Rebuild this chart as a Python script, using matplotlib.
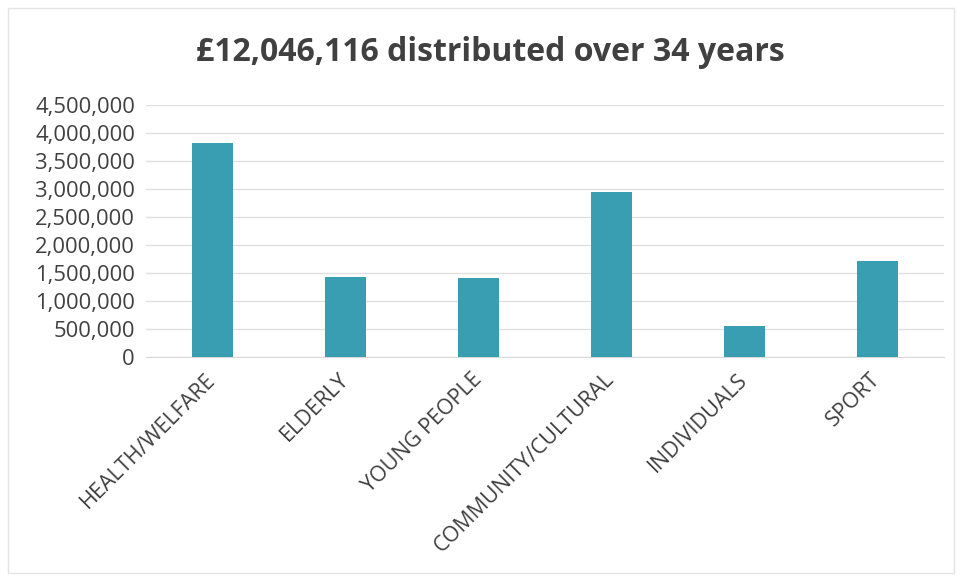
import matplotlib
matplotlib.use("Agg")
import matplotlib.pyplot as plt
from matplotlib.ticker import FuncFormatter, MultipleLocator
from matplotlib.patches import Rectangle

categories = ["HEALTH/WELFARE", "ELDERLY", "YOUNG PEOPLE", "COMMUNITY/CULTURAL", "INDIVIDUALS", "SPORT"]
amounts = [3815000, 1430000, 1410000, 2950000, 550000, 1710000]
title = "£12,046,116 distributed over 34 years"

bar_color = "#3A9EB2"
text_color = "#404040"

plt.rcParams['font.family'] = ['Open Sans', 'DejaVu Sans']

fig = plt.figure(figsize=(9.61, 5.8), dpi=100)
fig.patch.set_facecolor("white")
fig.patches.append(Rectangle((0.008, 0.012), 0.985, 0.975, transform=fig.transFigure,
                             fill=False, edgecolor="#e4e4e4", linewidth=1.0))

ax = fig.add_axes([0.152, 0.3845, 0.830, 0.4345])
x = range(len(categories))
ax.bar(x, amounts, width=0.31, color=bar_color, zorder=3)

ax.set_xlim(-0.5, len(categories) - 0.5)
ax.set_ylim(0, 4500000)
ax.yaxis.set_major_locator(MultipleLocator(500000))
ax.yaxis.set_major_formatter(FuncFormatter(lambda v, p: f"{int(v):,}"))
ax.grid(axis='y', color="#e0e0e0", linewidth=1.0, zorder=0)
for s in ["top", "right", "left"]:
    ax.spines[s].set_visible(False)
ax.spines["bottom"].set_color("#d9d9d9")
ax.tick_params(axis='y', length=0, pad=8, labelsize=15.8, labelcolor=text_color)
ax.tick_params(axis='x', length=0, pad=14, labelsize=15.5, labelcolor=text_color)

ax.set_xticks(list(x))
ax.set_xticklabels(categories, rotation=45, ha='right', rotation_mode='anchor', va='center')

fig.text(0.51, 0.91, title, ha='center', va='center', fontsize=23, fontweight='bold', color=text_color)

fig.savefig("out.png", dpi=100, facecolor="white")
